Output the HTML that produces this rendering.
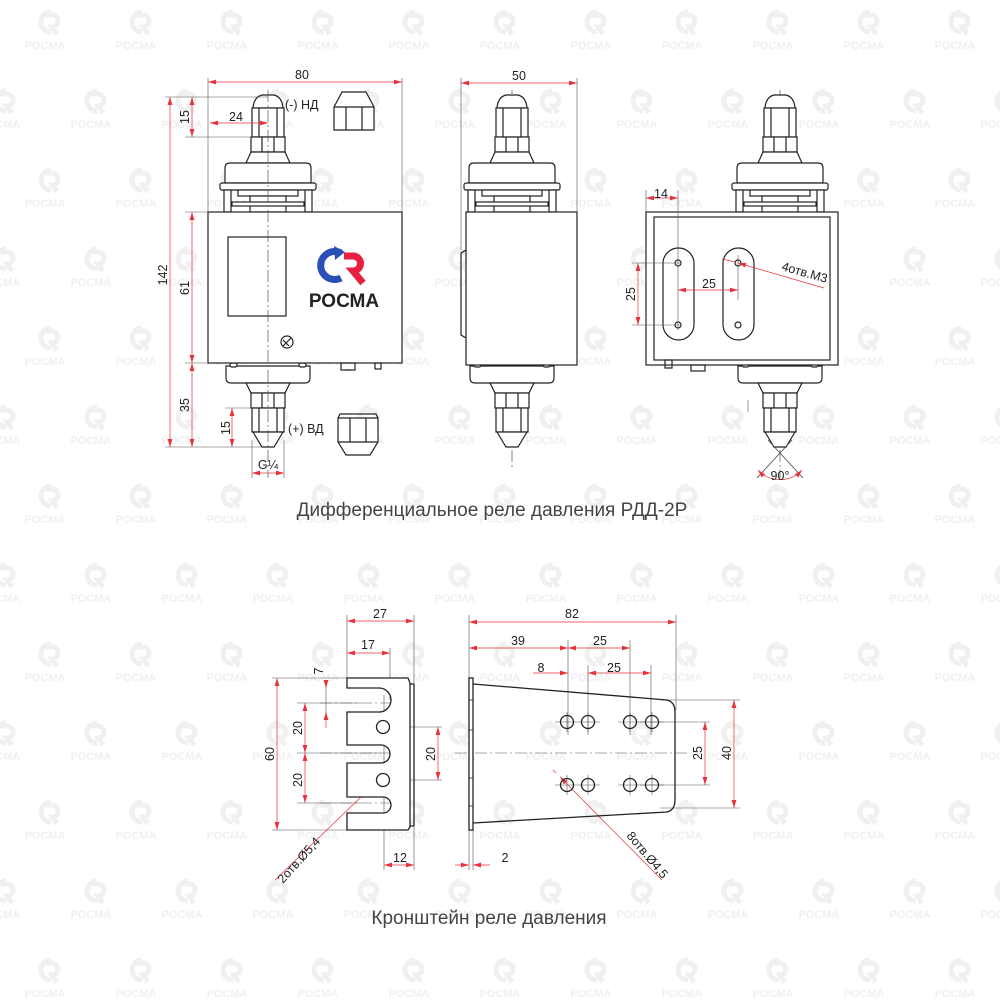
<!DOCTYPE html>
<html><head><meta charset="utf-8"><style>
html,body{margin:0;padding:0;background:#fff}
svg{display:block}
text{font-family:"Liberation Sans",sans-serif}
</style></head><body>
<svg width="1000" height="1000" viewBox="0 0 1000 1000" xmlns="http://www.w3.org/2000/svg">
<defs>
<pattern id="wm" x="0" y="0" width="91" height="158" patternUnits="userSpaceOnUse">
 <g fill="none" stroke="#f0f0f0" stroke-width="5">
  <path d="M51,12 A10,10 0 1 0 51,32"/><path d="M44,15 L52,15 A6,6 0 0 1 52,27 L57,34"/>
  <path d="M6,91 A10,10 0 1 0 6,111"/><path d="M-1,94 L7,94 A6,6 0 0 1 7,106 L12,113"/>
  <path d="M97,91 A10,10 0 1 0 97,111"/><path d="M90,94 L98,94 A6,6 0 0 1 98,106 L103,113"/>
 </g>
 <g fill="#f0f0f0" font-size="11" font-weight="bold" text-anchor="middle" style="font-family:'Liberation Sans',sans-serif">
  <text x="45" y="49">РОСМА</text><text x="0" y="128">РОСМА</text><text x="91" y="128">РОСМА</text>
 </g>
</pattern>
<marker id="ar" viewBox="0 0 10 6" refX="10" refY="3" markerWidth="8" markerHeight="5" orient="auto-start-reverse" markerUnits="userSpaceOnUse"><path d="M0,0 L10,3 L0,6 Z" fill="#e8323c"/></marker>
<g id="topfit" fill="#fff" stroke="#222" stroke-width="1.2">
 <path d="M-15,108 Q-14,97 -6,95 L6,95 Q14,97 15,108 Z"/>
 <rect x="-16" y="108" width="32" height="29"/>
 <path d="M-9,108 V137 M9,108 V137" fill="none"/>
 <rect x="-17" y="137" width="34" height="15"/>
 <path d="M-6,137 V152 M6,137 V152" fill="none"/>
 <path d="M-22,163 L-17,152 L17,152 L22,163 Z"/>
 <path d="M-43,183 L-43,168 Q-43,163 -38,163 L38,163 Q43,163 43,168 L43,183 Z"/>
 <rect x="-48" y="183" width="96" height="7" rx="2"/>
 <rect x="-44" y="190" width="7" height="22"/>
 <rect x="37" y="190" width="7" height="22"/>
 <rect x="-30" y="190" width="60" height="6"/>
 <rect x="-18" y="196" width="36" height="16"/>
 <rect x="-36" y="202" width="72" height="4"/>
</g>
<g id="botfit" fill="#fff" stroke="#222" stroke-width="1.2">
 <path d="M-42,366 L-42,378 Q-42,383 -37,383 L37,383 Q42,383 42,378 L42,366 Z"/>
 <path d="M-22,383 L-17,393 L17,393 L22,383 Z"/>
 <rect x="-17" y="393" width="34" height="15"/>
 <path d="M-6,393 V408 M6,393 V408" fill="none"/>
 <rect x="-16" y="408" width="32" height="24"/>
 <path d="M-9,408 V432 M9,408 V432" fill="none"/>
 <path d="M-15,432 L-6,447 L6,447 L15,432 Z"/>
 <rect x="-38" y="363" width="7" height="4" rx="2"/>
 <rect x="31" y="363" width="7" height="4" rx="2"/>
</g>
</defs>
<rect width="1000" height="1000" fill="url(#wm)"/>

<!-- VIEW 1 -->
<use href="#topfit" x="268"/>
<use href="#botfit" x="268"/>
<g fill="none" stroke="#222" stroke-width="1.2">
 <rect x="208" y="212" width="194" height="151" fill="#fff"/>
 <rect x="228" y="237" width="58" height="79"/>
 <circle cx="287" cy="342" r="6"/>
 <path d="M283,346 L291,338 M283,340 L289,346"/>
 <rect x="341" y="363" width="14" height="7"/><rect x="375" y="363" width="6" height="6"/>
 <path d="M345,370 L351,370"/>
 <path d="M342,92 L366,92 L374,107 L374,130 L334,130 L334,107 Z" fill="#fff"/>
 <path d="M334,107 L374,107 M346,107 V130 M362,107 V130"/>
 <path d="M338,418 L378,418 L378,442 L370,455 L346,455 L338,442 Z" fill="#fff"/>
 <path d="M338,442 L378,442 M350,418 V442 M366,418 V442 M338,418 L340,414 L376,414 L378,418"/>
</g>
<!-- logo -->
<path d="M341,253 A14,14 0 1 0 341,278" fill="none" stroke="#2a4fb8" stroke-width="7"/>
<path d="M334,246 L345,252 L335,260 Z" fill="#2a4fb8"/>
<path d="M344,256 L353,256 A7.5,7.5 0 0 1 353,271 L363,283" fill="none" stroke="#e8203f" stroke-width="7"/>
<text x="344" y="307" font-size="19" font-weight="bold" text-anchor="middle" fill="#222">РОСМА</text>
<path d="M268,90 V478 M512,90 V470 M780,90 V478" stroke="#555" stroke-width="0.7" stroke-dasharray="12,3,2,3" fill="none"/>

<!-- VIEW 2 -->
<use href="#topfit" x="512"/>
<use href="#botfit" x="512"/>
<g fill="none" stroke="#222" stroke-width="1.2">
 <rect x="466" y="212" width="111" height="153" fill="#fff"/>
 <path d="M466,250 L461,253 L461,335 L466,338"/>
</g>

<!-- VIEW 3 -->
<use href="#topfit" x="780"/>
<use href="#botfit" x="780"/>
<g fill="none" stroke="#222" stroke-width="1.2">
 <rect x="646" y="212" width="192" height="153" fill="#fff"/>
 <rect x="654" y="217" width="176" height="143"/>
 <rect x="663" y="248" width="31" height="92" rx="15.5"/>
 <rect x="723" y="248" width="31" height="92" rx="15.5"/>
 <circle cx="678" cy="263" r="3"/><circle cx="678" cy="325" r="3"/>
 <circle cx="738" cy="263" r="3"/><circle cx="738" cy="325" r="3"/>
 <rect x="665" y="360" width="7" height="8"/>
 <rect x="691" y="365" width="14" height="6"/>
</g>
<path d="M768,440 L803,478 M792,440 L757,478" stroke="#444" stroke-width="0.8" fill="none"/>

<g stroke="#555" stroke-width="0.6" fill="none">
 <path d="M208,78 V212 M402,78 V212 M461,78 V250 M577,78 V212"/>
 <path d="M165,97 H268 M185,137 H250 M165,447 H262 M185,363 H208 M185,212 H208 M225,408 H252"/>
 <path d="M252,440 V478 M284,440 V478 M646,190 V212 M678,190 V330 M738,255 V300"/>
 <path d="M632,263 H680 M632,325 H680 M748,400 V412"/>
 <path d="M347,615 V678 M414,615 V683 M390,648 V700 M326,680 V718 M297,703 H360 M297,753 H380 M297,803 H360 M272,678 H347 M272,830 H347 M370,727 H442 M370,780 H442 M384,695 V870 M414,827 V870"/>
 <path d="M469,615 V870 M473,830 V870 M676,615 V710 M568,640 V735 M630,640 V735 M588,665 V735 M651,665 V735"/>
 <path d="M660,700 H740 M660,808 H740 M640,722 H710 M640,785 H710"/>
 <path d="M555,722 H600 M618,722 H664 M555,785 H600 M618,785 H664 M567,712 V732 M588,712 V732 M630,712 V732 M652,712 V732 M567,775 V795 M588,775 V795 M630,775 V795 M652,775 V795 M383,719 V735 M375,727 H391 M383,772 V788 M375,780 H391"/>
 <path d="M455,753 H690" stroke-dasharray="12,3,2,3"/>
 <path d="M320,703 H400 M320,753 H400 M320,803 H400" stroke-dasharray="12,3,2,3"/>
</g>
<g stroke="#e8323c" stroke-width="0.7" fill="none">
 <path d="M208,82 H402" marker-start="url(#ar)" marker-end="url(#ar)"/>
 <path d="M170,97 V447" marker-start="url(#ar)" marker-end="url(#ar)"/>
 <path d="M192,97 V137" marker-start="url(#ar)" marker-end="url(#ar)"/>
 <path d="M210,123 H268" marker-start="url(#ar)" marker-end="url(#ar)"/>
 <path d="M192,212 V363" marker-start="url(#ar)" marker-end="url(#ar)"/>
 <path d="M192,363 V447" marker-start="url(#ar)" marker-end="url(#ar)"/>
 <path d="M232,408 V447" marker-start="url(#ar)" marker-end="url(#ar)"/>
 <path d="M252,473 H284" marker-start="url(#ar)" marker-end="url(#ar)"/>
 <path d="M461,83 H577" marker-start="url(#ar)" marker-end="url(#ar)"/>
 <path d="M646,198 H678" marker-start="url(#ar)" marker-end="url(#ar)"/>
 <path d="M638,263 V325" marker-start="url(#ar)" marker-end="url(#ar)"/>
 <path d="M678,290 H738" marker-start="url(#ar)" marker-end="url(#ar)"/>
 <path d="M824,288 L738,263" marker-end="url(#ar)"/>
 <path d="M722,259 L735,262"/>
 <path d="M758,470 A30,30 0 0 0 802,470" marker-start="url(#ar)" marker-end="url(#ar)"/>
 <path d="M347,621 H414" marker-start="url(#ar)" marker-end="url(#ar)"/>
 <path d="M347,653 H390" marker-start="url(#ar)" marker-end="url(#ar)"/>
 <path d="M326,680 V688" marker-end="url(#ar)"/><path d="M326,728 V712" marker-end="url(#ar)"/>
 <path d="M305,703 V753" marker-start="url(#ar)" marker-end="url(#ar)"/>
 <path d="M305,753 V803" marker-start="url(#ar)" marker-end="url(#ar)"/>
 <path d="M277,678 V830" marker-start="url(#ar)" marker-end="url(#ar)"/>
 <path d="M438,727 V780" marker-start="url(#ar)" marker-end="url(#ar)"/>
 <path d="M384,865 H414" marker-start="url(#ar)" marker-end="url(#ar)"/>
 <path d="M275,880 L392,767" marker-end="url(#ar)"/><path d="M397,762 L402,757"/>
 <path d="M469,622 H676" marker-start="url(#ar)" marker-end="url(#ar)"/>
 <path d="M469,648 H568" marker-start="url(#ar)" marker-end="url(#ar)"/>
 <path d="M568,648 H630" marker-start="url(#ar)" marker-end="url(#ar)"/>
 <path d="M533,673 H568" marker-end="url(#ar)"/>
 <path d="M588,673 H651" marker-start="url(#ar)" marker-end="url(#ar)"/>
 <path d="M705,722 V785" marker-start="url(#ar)" marker-end="url(#ar)"/>
 <path d="M734,700 V808" marker-start="url(#ar)" marker-end="url(#ar)"/>
 <path d="M455,865 H469" marker-end="url(#ar)"/><path d="M490,865 H473" marker-end="url(#ar)"/>
 <path d="M662,880 L560,777" marker-end="url(#ar)"/><path d="M553,770 L556,773"/>
</g>

<g fill="none" stroke="#222" stroke-width="1.3">
 <path d="M347,678 H408 L410,683 V827 L408,830 H347 V813 H383 A8,8 0 0 0 383,797 H347 V763 H381 A9,9 0 0 0 381,745 H347 V712 H379 A12,12 0 0 0 379,688 H347 Z" fill="#fff"/>
 <path d="M410,684 H414 V826 H410"/>
 <circle cx="383" cy="727" r="6.5"/><circle cx="383" cy="780" r="6.5"/>
 <rect x="469" y="678" width="4" height="152" fill="#fff"/>
 <path d="M473,684 L667,700 Q675,702 675,712 V800 Q675,810 667,812 L473,823"/>
 <circle cx="567" cy="722" r="6.5"/><circle cx="588" cy="722" r="6.5"/><circle cx="630" cy="722" r="6.5"/><circle cx="652" cy="722" r="6.5"/>
 <circle cx="567" cy="785" r="6.5"/><circle cx="588" cy="785" r="6.5"/><circle cx="630" cy="785" r="6.5"/><circle cx="652" cy="785" r="6.5"/>
</g>
<g stroke="#222" stroke-width="0.8"><path d="M469,700 H473 M469,730 H473 M469,778 H473 M469,806 H473"/></g>

<g fill="#222" font-size="12.5">
 <text x="302" y="79" text-anchor="middle">80</text>
 <text x="519" y="80" text-anchor="middle">50</text>
 <text x="236" y="121" text-anchor="middle">24</text>
 <text x="285" y="109">(-) НД</text>
 <text x="288" y="433">(+) ВД</text>
 <text x="268" y="469" text-anchor="middle">G¼</text>
 <text transform="translate(167,275) rotate(-90)" text-anchor="middle">142</text>
 <text transform="translate(189,117) rotate(-90)" text-anchor="middle">15</text>
 <text transform="translate(189,288) rotate(-90)" text-anchor="middle">61</text>
 <text transform="translate(189,405) rotate(-90)" text-anchor="middle">35</text>
 <text transform="translate(230,428) rotate(-90)" text-anchor="middle">15</text>
 <text x="661" y="198" text-anchor="middle">14</text>
 <text transform="translate(635,294) rotate(-90)" text-anchor="middle">25</text>
 <text x="709" y="288" text-anchor="middle">25</text>
 <text transform="translate(781,270) rotate(16)">4отв.М3</text>
 <text x="780" y="480" text-anchor="middle">90°</text>
 <text x="380" y="618" text-anchor="middle">27</text>
 <text x="368" y="649" text-anchor="middle">17</text>
 <text transform="translate(323,671) rotate(-90)" text-anchor="middle">7</text>
 <text transform="translate(302,728) rotate(-90)" text-anchor="middle">20</text>
 <text transform="translate(302,780) rotate(-90)" text-anchor="middle">20</text>
 <text transform="translate(274,754) rotate(-90)" text-anchor="middle">60</text>
 <text transform="translate(435,754) rotate(-90)" text-anchor="middle">20</text>
 <text x="400" y="862" text-anchor="middle">12</text>
 <text transform="translate(283,884) rotate(-48)">2отв.Ø5,4</text>
 <text x="572" y="618" text-anchor="middle">82</text>
 <text x="518" y="645" text-anchor="middle">39</text>
 <text x="600" y="645" text-anchor="middle">25</text>
 <text x="541" y="672" text-anchor="middle">8</text>
 <text x="614" y="672" text-anchor="middle">25</text>
 <text transform="translate(702,753) rotate(-90)" text-anchor="middle">25</text>
 <text transform="translate(731,753) rotate(-90)" text-anchor="middle">40</text>
 <text x="505" y="862" text-anchor="middle">2</text>
 <text transform="translate(626,836) rotate(50)">8отв.Ø4,5</text>
</g>
<text x="492" y="516" font-size="19" fill="#444" text-anchor="middle">Дифференциальное реле давления РДД-2Р</text>
<text x="489" y="924" font-size="19" fill="#444" text-anchor="middle">Кронштейн реле давления</text>
</svg>
</body></html>
